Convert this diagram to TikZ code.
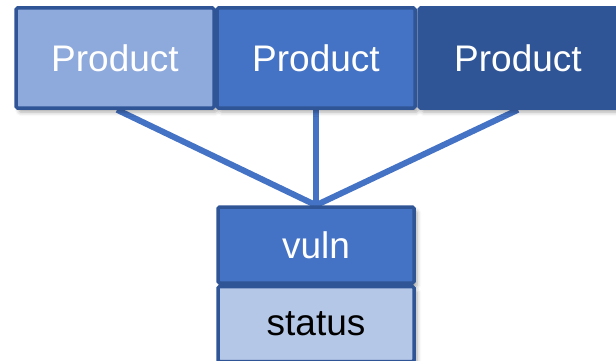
\documentclass[tikz,border=0pt]{standalone}
\usepackage{fontspec}
\setmainfont{Liberation Sans}
\usetikzlibrary{shadows.blur,backgrounds}
\definecolor{edgeblue}{HTML}{2F5597}
\definecolor{lightblue}{HTML}{8EA9DB}
\definecolor{midblue}{HTML}{4472C4}
\definecolor{darkblue}{HTML}{2F5597}
\definecolor{paleblue}{HTML}{B4C7E7}
\tikzset{
  box/.style={draw=edgeblue, line width=3.5pt, rounded corners=1.5pt,
    inner sep=0pt, font=\fontsize{37}{42}\selectfont,
    blur shadow={shadow xshift=3pt, shadow yshift=-4pt, shadow blur radius=4pt, shadow opacity=35}},
  product/.style={box, minimum width=198pt, minimum height=100pt, text=white},
  field/.style={box, minimum width=196pt},
  link/.style={draw=midblue, line width=6pt}
}
\begin{document}
\begin{tikzpicture}[x=1pt, y=-1pt]
  \useasboundingbox (0,0) rectangle (616,361);
  % upper row
  \node[product, fill=lightblue] (p1) at (115,58) {Product};
  \node[product, fill=midblue]   (p2) at (316,58) {Product};
  \node[product, fill=darkblue]  (p3) at (518,58) {Product};
  % record box
  \node[field, fill=midblue, text=white, minimum height=76pt] (vuln) at (316,245) {vuln};
  \node[field, fill=paleblue, text=black, minimum height=75pt, anchor=north] (status) at (vuln.south) {status};
  % connectors, kept behind the boxes
  \begin{scope}[on background layer]
    \draw[link] ([xshift=2pt]p1.south) -- (vuln.north);
    \draw[link] (p2.south) -- (vuln.north);
    \draw[link] (p3.south) -- (vuln.north);
  \end{scope}
\end{tikzpicture}
\end{document}
